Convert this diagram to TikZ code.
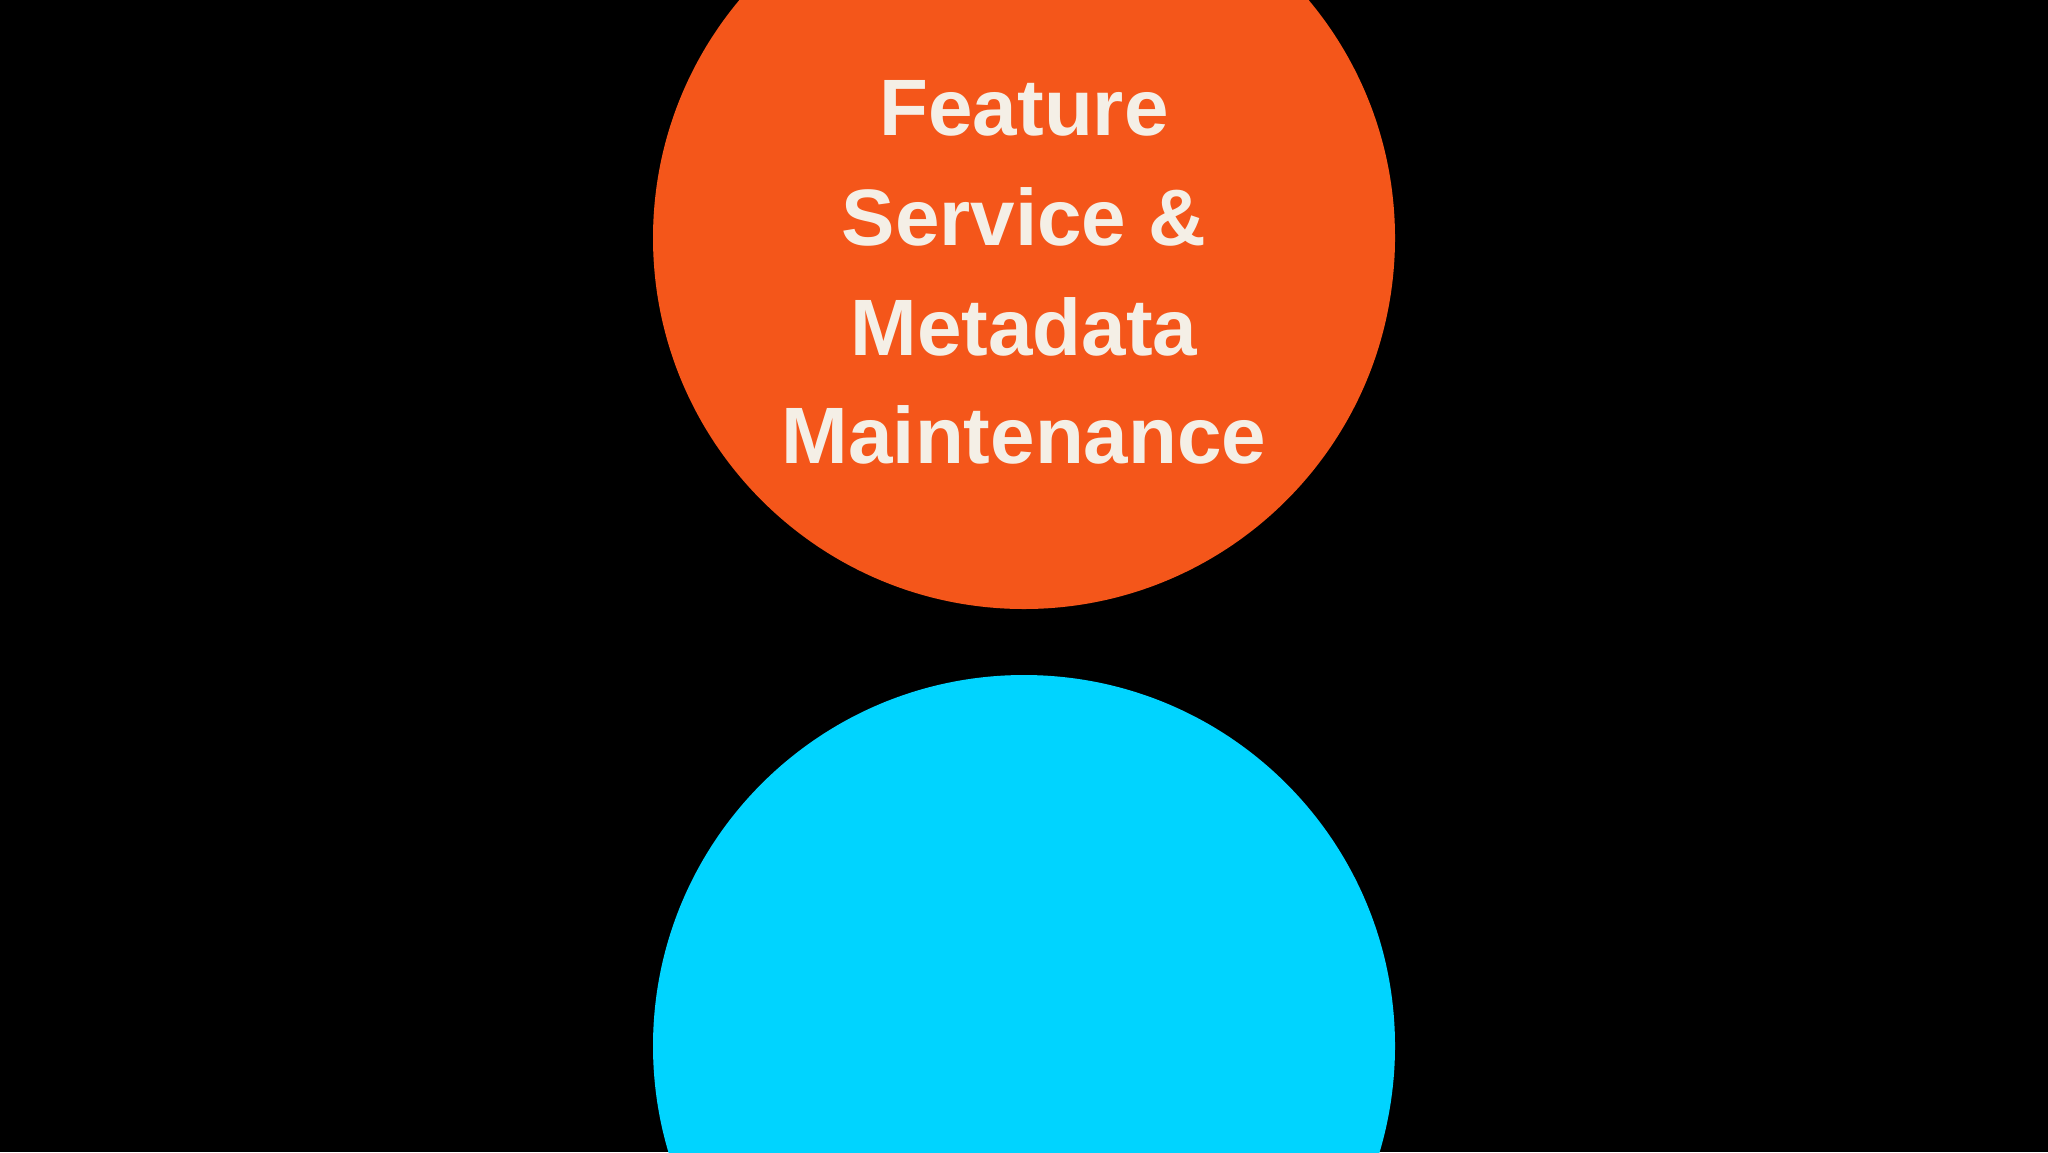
\documentclass[tikz,border=0pt]{standalone}
\usepackage{fontspec}
\setmainfont{Liberation Sans}
\definecolor{bgblack}{HTML}{000000}
\definecolor{orangec}{HTML}{F4561A}
\definecolor{bluec}{HTML}{00D4FF}
\definecolor{creamtext}{HTML}{F4EFE6}
\begin{document}
\begin{tikzpicture}[x=0.5pt,y=-0.5pt,
  bubble/.style={circle, minimum size=371pt, inner sep=0pt, draw=none},
  label/.style={anchor=base, inner sep=0pt, text=creamtext, font=\fontsize{40pt}{48pt}\selectfont\bfseries}]
\useasboundingbox (0,0) rectangle (2048,1152);
\clip (0,0) rectangle (2048,1152);
\fill[bgblack] (0,0) rectangle (2048,1152);
\node[bubble, fill=orangec] (top) at (1024,238) {};
\node[bubble, fill=bluec] (bottom) at (1024,1046) {};
\node[label] (l1) at (1024,135) {Feature};
\node[label] (l2) at (1024,245) {Service \&};
\node[label] (l3) at (1024,355) {Metadata};
\node[label] (l4) at (1024,463) {Maintenance};
\end{tikzpicture}
\end{document}
